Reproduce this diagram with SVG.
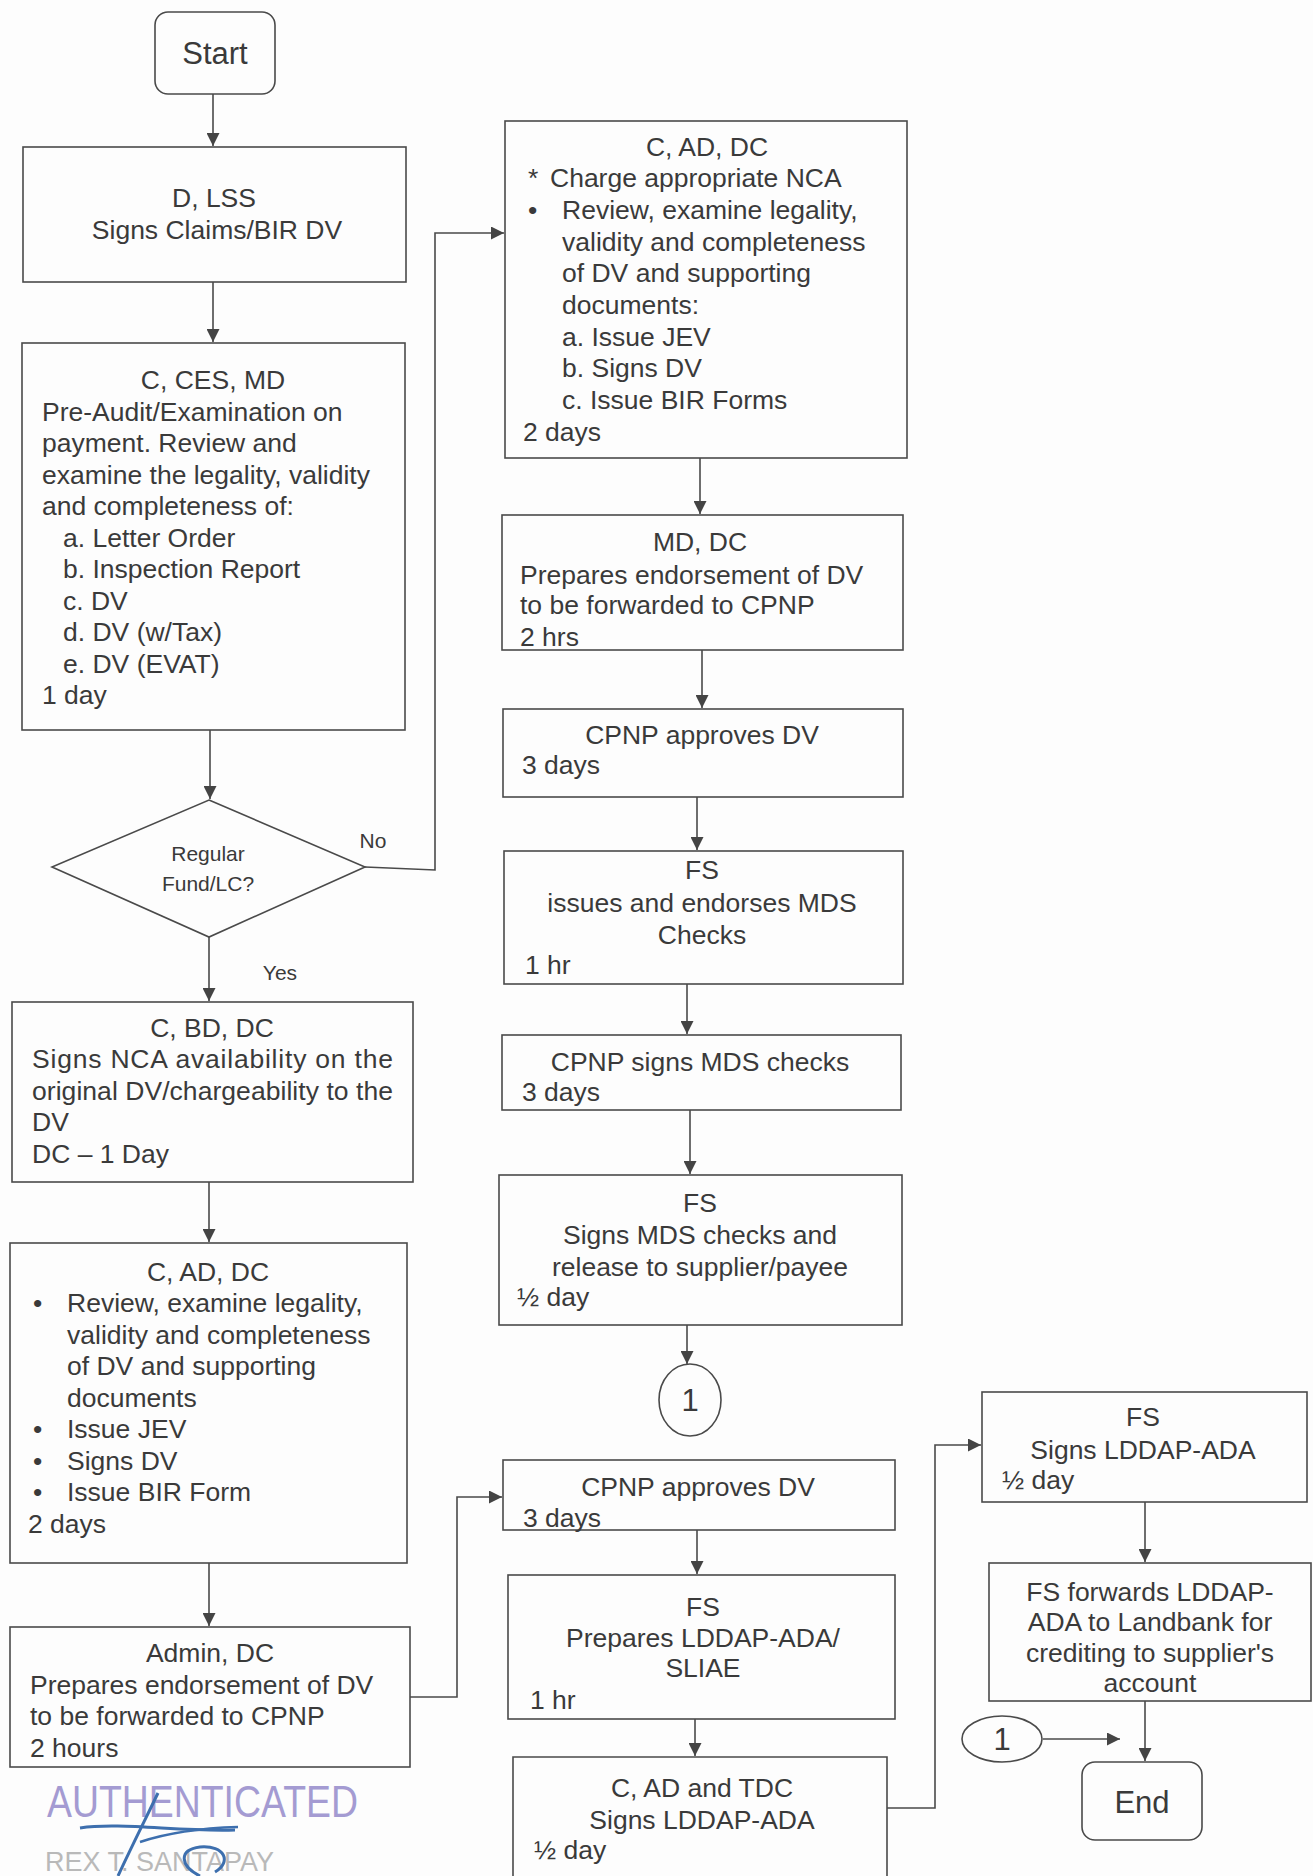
<svg xmlns="http://www.w3.org/2000/svg" width="1313" height="1876" viewBox="0 0 1313 1876">
<defs>
<marker id="arr" viewBox="0 0 10 10" refX="10" refY="5" markerWidth="13" markerHeight="13" markerUnits="userSpaceOnUse" orient="auto">
<path d="M0,0 L10,5 L0,10 z" fill="#444"/>
</marker>
<style>
.box{fill:none;stroke:#4a4a4a;stroke-width:1.6}
.t{font-family:"Liberation Sans",Arial,sans-serif;font-size:26.5px;fill:#3a3a3a}
.c{text-anchor:middle}
.s{font-size:21px}
.big{font-size:31px}
.con{fill:none;stroke:#4a4a4a;stroke-width:1.6}
.arr{marker-end:url(#arr)}
</style>
</defs>
<rect x="0" y="0" width="1313" height="1876" fill="#fdfdfd"/>

<g id="connectors">
<path class="con arr" d="M213,94 V146"/>
<path class="con arr" d="M213,282 V342"/>
<path class="con arr" d="M210,730 V799"/>
<path class="con arr" d="M365,867 L435,870 V233 H504"/>
<path class="con arr" d="M209,937 V1001"/>
<path class="con arr" d="M209,1182 V1242"/>
<path class="con arr" d="M209,1563 V1626"/>
<path class="con arr" d="M410,1697 H457 V1497 H502"/>
<path class="con arr" d="M700,458 V514"/>
<path class="con arr" d="M702,650 V708"/>
<path class="con arr" d="M697,797 V850"/>
<path class="con arr" d="M687,984 V1034"/>
<path class="con arr" d="M690,1110 V1174"/>
<path class="con arr" d="M687,1325 V1364"/>
<path class="con arr" d="M697,1530 V1574"/>
<path class="con arr" d="M695,1719 V1756"/>
<path class="con arr" d="M887,1808 H935 V1445 H981"/>
<path class="con arr" d="M1145,1502 V1562"/>
<path class="con arr" d="M1145,1701 V1761"/>
<path class="con arr" d="M1043,1739 H1120"/>
</g>

<g id="start">
<rect class="box" x="155" y="12" width="120" height="82" rx="13"/>
<text class="t c big" x="215" y="64">Start</text>
</g>

<g id="d-lss">
<rect class="box" x="23" y="147" width="383" height="135"/>
<text class="t c" x="214" y="207">D, LSS</text>
<text class="t c" x="217" y="239">Signs Claims/BIR DV</text>
</g>

<g id="c-ces-md">
<rect class="box" x="22" y="343" width="383" height="387"/>
<text class="t c" x="213" y="389">C, CES, MD</text>
<text class="t" x="42" y="421">Pre-Audit/Examination on</text>
<text class="t" x="42" y="452">payment. Review and</text>
<text class="t" x="42" y="484">examine the legality, validity</text>
<text class="t" x="42" y="515">and completeness of:</text>
<text class="t" x="63" y="547">a. Letter Order</text>
<text class="t" x="63" y="578">b. Inspection Report</text>
<text class="t" x="63" y="610">c. DV</text>
<text class="t" x="63" y="641">d. DV (w/Tax)</text>
<text class="t" x="63" y="673">e. DV (EVAT)</text>
<text class="t" x="42" y="704">1 day</text>
</g>

<g id="decision">
<polygon class="box" points="209,800 365,867 209,937 52,867"/>
<text class="t c s" x="208" y="861">Regular</text>
<text class="t c s" x="208" y="891">Fund/LC?</text>
<text class="t c s" x="373" y="848">No</text>
<text class="t c s" x="280" y="980">Yes</text>
</g>

<g id="c-bd-dc">
<rect class="box" x="12" y="1002" width="401" height="180"/>
<text class="t c" x="212" y="1037">C, BD, DC</text>
<text class="t" x="32" y="1068" textLength="361" lengthAdjust="spacing">Signs NCA availability on the</text>
<text class="t" x="32" y="1100" textLength="361" lengthAdjust="spacing">original DV/chargeability to the</text>
<text class="t" x="32" y="1131">DV</text>
<text class="t" x="32" y="1163">DC – 1 Day</text>
</g>

<g id="c-ad-dc-left">
<rect class="box" x="10" y="1243" width="397" height="320"/>
<text class="t c" x="208" y="1281">C, AD, DC</text>
<text class="t" x="33" y="1312">•</text>
<text class="t" x="67" y="1312">Review, examine legality,</text>
<text class="t" x="67" y="1344">validity and completeness</text>
<text class="t" x="67" y="1375">of DV and supporting</text>
<text class="t" x="67" y="1407">documents</text>
<text class="t" x="33" y="1438">•</text>
<text class="t" x="67" y="1438">Issue JEV</text>
<text class="t" x="33" y="1470">•</text>
<text class="t" x="67" y="1470">Signs DV</text>
<text class="t" x="33" y="1501">•</text>
<text class="t" x="67" y="1501">Issue BIR Form</text>
<text class="t" x="28" y="1533">2 days</text>
</g>

<g id="admin-dc">
<rect class="box" x="10" y="1627" width="400" height="140"/>
<text class="t c" x="210" y="1662">Admin, DC</text>
<text class="t" x="30" y="1694">Prepares endorsement of DV</text>
<text class="t" x="30" y="1725">to be forwarded to CPNP</text>
<text class="t" x="30" y="1757">2 hours</text>
</g>

<g id="stamp">
<text x="47" y="1817" textLength="311" lengthAdjust="spacingAndGlyphs" style="font-family:'Liberation Sans',Arial,sans-serif;font-size:44px;fill:#a49bd2">AUTHENTICATED</text>
<text x="45" y="1871" style="font-family:'Liberation Sans',Arial,sans-serif;font-size:27px;fill:#b9b9b9">REX T. SANTAPAY</text>
<path d="M80,1828 C120,1822 180,1832 235,1830" fill="none" stroke="#3d6fae" stroke-width="3"/>
<path d="M158,1793 C145,1820 130,1850 118,1876" fill="none" stroke="#3d6fae" stroke-width="3"/>
<path d="M140,1842 C170,1832 205,1828 238,1827" fill="none" stroke="#3d6fae" stroke-width="2.5"/>
<path d="M200,1876 C180,1866 178,1850 200,1847 C225,1845 232,1862 215,1872" fill="none" stroke="#3d6fae" stroke-width="3"/>
</g>

<g id="c-ad-dc-right">
<rect class="box" x="505" y="121" width="402" height="337"/>
<text class="t c" x="707" y="156">C, AD, DC</text>
<text class="t" x="528" y="187">*</text>
<text class="t" x="550" y="187">Charge appropriate NCA</text>
<text class="t" x="528" y="219">•</text>
<text class="t" x="562" y="219">Review, examine legality,</text>
<text class="t" x="562" y="251">validity and completeness</text>
<text class="t" x="562" y="282">of DV and supporting</text>
<text class="t" x="562" y="314">documents:</text>
<text class="t" x="562" y="346">a. Issue JEV</text>
<text class="t" x="562" y="377">b. Signs DV</text>
<text class="t" x="562" y="409">c. Issue BIR Forms</text>
<text class="t" x="523" y="441">2 days</text>
</g>

<g id="md-dc">
<rect class="box" x="502" y="515" width="401" height="135"/>
<text class="t c" x="700" y="551">MD, DC</text>
<text class="t" x="520" y="584">Prepares endorsement of DV</text>
<text class="t" x="520" y="614">to be forwarded to CPNP</text>
<text class="t" x="520" y="646">2 hrs</text>
</g>

<g id="cpnp-approves-1">
<rect class="box" x="503" y="709" width="400" height="88"/>
<text class="t c" x="702" y="744">CPNP approves DV</text>
<text class="t" x="522" y="774">3 days</text>
</g>

<g id="fs-issues">
<rect class="box" x="504" y="851" width="399" height="133"/>
<text class="t c" x="702" y="879">FS</text>
<text class="t c" x="702" y="912">issues and endorses MDS</text>
<text class="t c" x="702" y="944">Checks</text>
<text class="t" x="525" y="974">1 hr</text>
</g>

<g id="cpnp-signs">
<rect class="box" x="502" y="1035" width="399" height="75"/>
<text class="t c" x="700" y="1071">CPNP signs MDS checks</text>
<text class="t" x="522" y="1101">3 days</text>
</g>

<g id="fs-signs-mds">
<rect class="box" x="499" y="1175" width="403" height="150"/>
<text class="t c" x="700" y="1212">FS</text>
<text class="t c" x="700" y="1244">Signs MDS checks and</text>
<text class="t c" x="700" y="1276">release to supplier/payee</text>
<text class="t" x="517" y="1306">½ day</text>
</g>

<g id="connector-1-top">
<ellipse class="box" cx="690" cy="1400" rx="31" ry="36"/>
<text class="t c big" x="690" y="1411">1</text>
</g>

<g id="cpnp-approves-2">
<rect class="box" x="503" y="1460" width="392" height="70"/>
<text class="t c" x="698" y="1496">CPNP approves DV</text>
<text class="t" x="523" y="1527">3 days</text>
</g>

<g id="fs-prepares">
<rect class="box" x="508" y="1575" width="387" height="144"/>
<text class="t c" x="703" y="1616">FS</text>
<text class="t c" x="703" y="1647">Prepares LDDAP-ADA/</text>
<text class="t c" x="703" y="1677">SLIAE</text>
<text class="t" x="530" y="1709">1 hr</text>
</g>

<g id="c-ad-tdc">
<path class="box" d="M513,1880 V1757 H887 V1880"/>
<text class="t c" x="702" y="1797">C, AD and TDC</text>
<text class="t c" x="702" y="1829">Signs LDDAP-ADA</text>
<text class="t" x="534" y="1859">½ day</text>
</g>

<g id="fs-signs-lddap">
<rect class="box" x="982" y="1392" width="325" height="110"/>
<text class="t c" x="1143" y="1426">FS</text>
<text class="t c" x="1143" y="1459">Signs LDDAP-ADA</text>
<text class="t" x="1002" y="1489">½ day</text>
</g>

<g id="fs-forwards">
<rect class="box" x="989" y="1563" width="322" height="138"/>
<text class="t c" x="1150" y="1601">FS forwards LDDAP-</text>
<text class="t c" x="1150" y="1631">ADA to Landbank  for</text>
<text class="t c" x="1150" y="1662">crediting to supplier's</text>
<text class="t c" x="1150" y="1692">account</text>
</g>

<g id="connector-1-bottom">
<ellipse class="box" cx="1002" cy="1739" rx="40" ry="23"/>
<text class="t c big" x="1002" y="1750">1</text>
</g>

<g id="end">
<rect class="box" x="1082" y="1762" width="120" height="78" rx="13"/>
<text class="t c big" x="1142" y="1813">End</text>
</g>
</svg>
